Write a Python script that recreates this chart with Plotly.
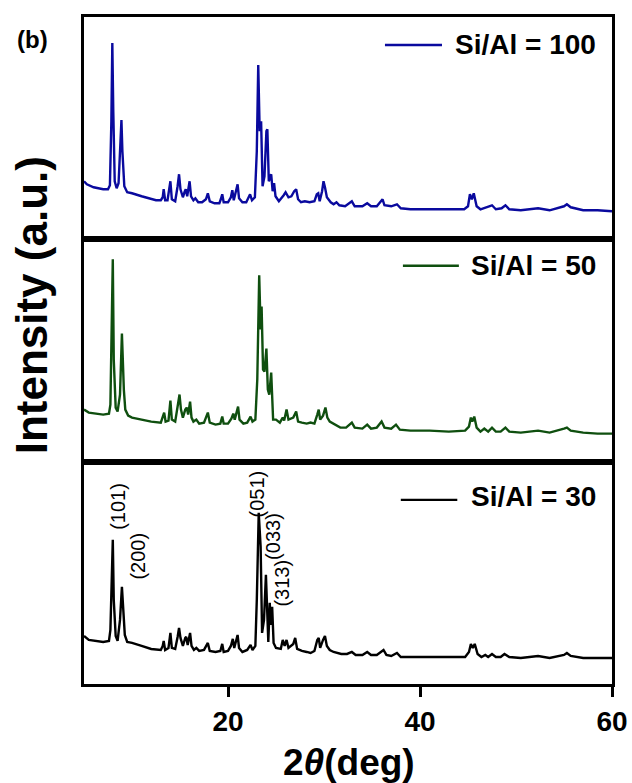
import plotly.graph_objects as go
from plotly.subplots import make_subplots

# XRD patterns (2-theta in degrees, intensity in a.u.)
two_theta_100 = [5.0, 5.3, 6.0, 7.0, 7.5, 7.7, 7.85, 7.95, 8.05, 8.2, 8.4, 8.6, 8.8, 8.9, 9.0, 9.1, 9.2, 9.5,
                 10.0, 11.0, 12.0, 12.5, 13.0, 13.2, 13.3, 13.45, 13.7, 13.9, 14.0, 14.15, 14.5, 14.75, 14.9,
                 15.05, 15.3, 15.5, 15.6, 15.75, 15.9, 16.0, 16.15, 16.4, 16.6, 16.9, 17.3, 17.7, 17.9, 18.1,
                 18.6, 19.1, 19.25, 19.4, 19.55, 20.0, 20.3, 20.45, 20.6, 20.85, 21.0, 21.15, 21.5, 21.9, 22.2,
                 22.3, 22.5, 22.8, 23.0, 23.15, 23.3, 23.45, 23.6, 23.8, 24.0, 24.1, 24.25, 24.4, 24.5, 24.65,
                 24.8, 24.95, 25.3, 25.8, 26.0, 26.3, 26.6, 26.9, 27.1, 27.3, 27.6, 28.0, 28.5, 29.0, 29.25,
                 29.4, 29.55, 29.8, 29.95, 30.1, 30.3, 30.7, 31.0, 31.3, 31.6, 32.2, 32.9, 33.2, 34.0, 34.5,
                 34.9, 35.5, 35.9, 36.1, 36.3, 37.0, 37.6, 38.0, 39.0, 41.0, 43.0, 44.6, 45.0, 45.2, 45.4,
                 45.6, 45.9, 46.3, 46.6, 47.0, 47.5, 47.9, 48.5, 48.9, 49.3, 50.5, 52.3, 53.5, 55.0, 55.3,
                 55.7, 57.0, 58.5, 60.0]
intensity_100 = [58, 55, 52, 50, 50, 54, 118, 196, 128, 58, 51, 56, 98, 119, 88, 70, 53, 47,
                 46, 43, 40, 39, 39, 42, 50, 39, 39, 52, 58, 40, 38, 53, 65,
                 50, 42, 48, 50, 43, 53, 58, 43, 39, 41, 37, 37, 40, 46, 38,
                 36, 36, 40, 45, 37, 37, 42, 49, 39, 48, 55, 41, 37, 37, 42,
                 45, 39, 42, 88, 174, 108, 118, 53, 63, 108, 110, 58, 63, 65, 48,
                 56, 43, 38, 44, 47, 42, 43, 48, 50, 40, 37, 38, 37, 38, 45,
                 46, 38, 48, 58, 52, 42, 37, 35, 37, 34, 33, 38, 33, 33, 36,
                 33, 33, 38, 40, 34, 33, 35, 31, 30, 30, 30, 30, 33, 45, 40,
                 46, 33, 30, 31, 32, 34, 30, 31, 34, 30, 29, 31, 29, 33, 35,
                 32, 29, 29, 28]

two_theta_50 = [5.0, 5.5, 7.0, 7.6, 7.75, 7.9, 8.0, 8.1, 8.3, 8.5, 8.75, 8.95, 9.05, 9.15, 9.3, 9.6,
                10.0, 11.0, 12.0, 13.0, 13.2, 13.35, 13.5, 13.8, 14.0, 14.15, 14.5, 14.75, 14.95, 15.1,
                15.3, 15.55, 15.7, 15.85, 16.05, 16.2, 16.4, 16.7, 17.0, 17.5, 17.9, 18.1, 18.7, 19.2,
                19.4, 19.55, 20.0, 20.35, 20.55, 20.7, 20.9, 21.05, 21.2, 21.6, 22.0, 22.35, 22.55, 22.85,
                23.05, 23.25, 23.4, 23.5, 23.65, 23.8, 24.0, 24.15, 24.3, 24.5, 24.7, 25.0, 25.4, 25.7,
                25.85, 26.1, 26.3, 26.8, 27.1, 27.3, 27.7, 28.2, 28.6, 29.0, 29.3, 29.45, 29.6, 29.9,
                30.15, 30.35, 30.6, 31.0, 31.4, 31.7, 32.3, 32.9, 33.2, 34.0, 34.5, 34.9, 35.5, 36.0,
                36.3, 37.0, 37.5, 37.9, 39.0, 41.0, 43.0, 44.7, 45.1, 45.3, 45.45, 45.65, 45.9, 46.3,
                46.7, 47.1, 47.5, 47.9, 48.4, 48.9, 49.3, 50.5, 52.3, 53.5, 55.0, 55.3, 55.7, 57.0,
                58.5, 60.0]
intensity_50 = [52, 49, 47, 48, 57, 132, 202, 102, 54, 50, 67, 128, 92, 72, 52, 46,
                44, 42, 40, 39, 44, 49, 40, 41, 61, 42, 40, 54, 67, 52,
                44, 52, 54, 47, 60, 44, 40, 42, 38, 39, 49, 39, 37, 38,
                45, 38, 38, 43, 48, 42, 49, 55, 42, 38, 39, 45, 40, 42,
                82, 186, 132, 155, 92, 90, 113, 72, 67, 89, 42, 42, 39, 44,
                41, 52, 42, 44, 50, 40, 39, 38, 39, 38, 47, 52, 42, 46,
                54, 44, 40, 38, 36, 34, 34, 39, 34, 33, 37, 33, 34, 40,
                34, 33, 37, 32, 31, 31, 30, 31, 35, 44, 40, 45, 34, 30,
                33, 30, 34, 30, 30, 34, 30, 29, 31, 29, 33, 34, 31, 29,
                28, 28]

two_theta_30 = [5.0, 5.5, 7.0, 7.6, 7.75, 7.9, 8.0, 8.1, 8.3, 8.5, 8.75, 8.95, 9.1, 9.25, 9.5,
                10.0, 11.0, 12.0, 13.0, 13.2, 13.3, 13.45, 13.8, 14.0, 14.15, 14.5, 14.75, 14.9, 15.05,
                15.3, 15.55, 15.65, 15.8, 16.05, 16.2, 16.45, 16.7, 17.0, 17.5, 17.9, 18.1, 18.7, 19.2,
                19.4, 19.55, 20.0, 20.3, 20.5, 20.65, 20.85, 21.0, 21.15, 21.5, 22.0, 22.35, 22.55, 22.85,
                23.0, 23.2, 23.3, 23.4, 23.55, 23.75, 23.95, 24.1, 24.2, 24.35, 24.45, 24.6, 24.75, 25.0,
                25.5, 25.7, 25.9, 26.1, 26.3, 26.8, 27.0, 27.2, 27.7, 28.2, 28.6, 29.0, 29.3, 29.45,
                29.6, 29.9, 30.1, 30.3, 30.6, 31.0, 31.4, 31.8, 32.4, 32.9, 33.3, 34.0, 34.5, 34.9,
                35.5, 36.0, 36.2, 36.5, 37.0, 37.6, 38.0, 39.0, 41.0, 43.0, 44.7, 45.1, 45.3, 45.5,
                45.7, 46.0, 46.4, 46.8, 47.1, 47.5, 47.9, 48.4, 48.8, 49.3, 50.5, 52.3, 53.5, 55.0,
                55.3, 55.7, 57.0, 58.5, 60.0]
intensity_30 = [48, 44, 42, 43, 54, 104, 144, 84, 48, 43, 64, 97, 74, 49, 42,
                41, 38, 35, 34, 38, 43, 34, 36, 51, 36, 35, 47, 56, 46,
                38, 46, 47, 39, 51, 38, 34, 36, 33, 34, 41, 33, 32, 33,
                40, 32, 33, 38, 45, 36, 43, 49, 36, 32, 34, 39, 34, 38,
                84, 171, 154, 137, 51, 64, 109, 69, 42, 81, 59, 77, 41, 36,
                35, 44, 38, 44, 36, 40, 46, 35, 33, 32, 31, 33, 44, 46,
                36, 44, 48, 38, 34, 32, 31, 30, 30, 32, 29, 29, 32, 29,
                29, 33, 34, 29, 28, 31, 27, 27, 27, 27, 27, 32, 40, 36,
                40, 30, 27, 29, 27, 30, 27, 27, 30, 27, 26, 28, 26, 29,
                31, 28, 26, 26, 26]

series_names = ["Si/Al = 100", "Si/Al = 50", "Si/Al = 30"]
series_colors = ["#0a0a9e", "#0f4f0f", "#000000"]

# Reflection labels on the Si/Al = 30 pattern: (label, 2-theta, intensity position)
hkl_labels = ["(101)", "(200)", "(051)", "(033)", "(313)"]
hkl_theta = [8.55, 10.6, 23.0, 24.7, 25.6]
hkl_pos = [177, 128, 190, 147, 101]

x_ticks = [20, 40, 60]

FONT = "Liberation Sans, Arial, sans-serif"

fig = make_subplots(rows=3, cols=1, shared_xaxes=True, vertical_spacing=0)

data = [(two_theta_100, intensity_100), (two_theta_50, intensity_50), (two_theta_30, intensity_30)]
for i, ((xs, ys), name, color) in enumerate(zip(data, series_names, series_colors)):
    fig.add_trace(
        go.Scatter(x=xs, y=ys, mode="lines", name=name,
                   line=dict(color=color, width=2.4), showlegend=False),
        row=i + 1, col=1,
    )

for r in range(1, 4):
    fig.update_yaxes(range=[0, 222], showticklabels=False, ticks="", showgrid=False,
                     zeroline=False, showline=True, mirror=True, linewidth=3,
                     linecolor="black", automargin=False, row=r, col=1)
    fig.update_xaxes(range=[5, 60], showgrid=False, zeroline=False, showline=True,
                     mirror=True, linewidth=3, linecolor="black", automargin=False,
                     row=r, col=1)

fig.update_xaxes(ticks="", row=1, col=1)
fig.update_xaxes(ticks="", row=2, col=1)
fig.update_xaxes(tickvals=x_ticks, ticks="outside", ticklen=10, tickwidth=3,
                 tickcolor="black", showticklabels=True,
                 tickfont=dict(family=FONT, size=28, color="black", weight="bold"),
                 row=3, col=1)

# In-panel legends: a short line sample and the series name
legend_lines = [(0.570, 0.678, 0.958), (0.604, 0.710, 0.627), (0.600, 0.707, 0.276)]
legend_text_y = [0.9588, 0.6267, 0.2804]
for (x0, x1, yl), ty, name, color in zip(legend_lines, legend_text_y, series_names, series_colors):
    fig.add_shape(type="line", xref="paper", yref="paper", x0=x0, x1=x1, y0=yl, y1=yl,
                  line=dict(color=color, width=2.4))
    fig.add_annotation(text=name, xref="paper", yref="paper", x=0.9735, y=ty,
                       xanchor="right", yanchor="middle", showarrow=False,
                       font=dict(family=FONT, size=28, color="black", weight="bold"))

for lab, tx, ty in zip(hkl_labels, hkl_theta, hkl_pos):
    fig.add_annotation(text=lab, x=tx, y=ty, xref="x3", yref="y3", textangle=-90,
                       showarrow=False, xanchor="center", yanchor="middle",
                       font=dict(family=FONT, size=20, color="black"))

fig.add_annotation(text="Intensity (a.u.)", xref="paper", yref="paper", x=-0.1, y=0.568,
                   textangle=-90, showarrow=False, xanchor="center", yanchor="middle",
                   font=dict(family=FONT, size=44, color="black", weight="bold"))
fig.add_annotation(text="2<i>θ</i>(deg)", xref="paper", yref="paper", x=0.502, y=-0.117,
                   showarrow=False, xanchor="center", yanchor="middle",
                   font=dict(family=FONT, size=37, color="black", weight="bold"))
fig.add_annotation(text="(b)", xref="paper", yref="paper", x=-0.0966, y=0.967,
                   showarrow=False, xanchor="center", yanchor="middle",
                   font=dict(family=FONT, size=24, color="black", weight="bold"))

fig.update_layout(width=632, height=783, margin=dict(l=84, r=20, t=17, b=99),
                  paper_bgcolor="white", plot_bgcolor="white")

fig.write_html("out.html")
